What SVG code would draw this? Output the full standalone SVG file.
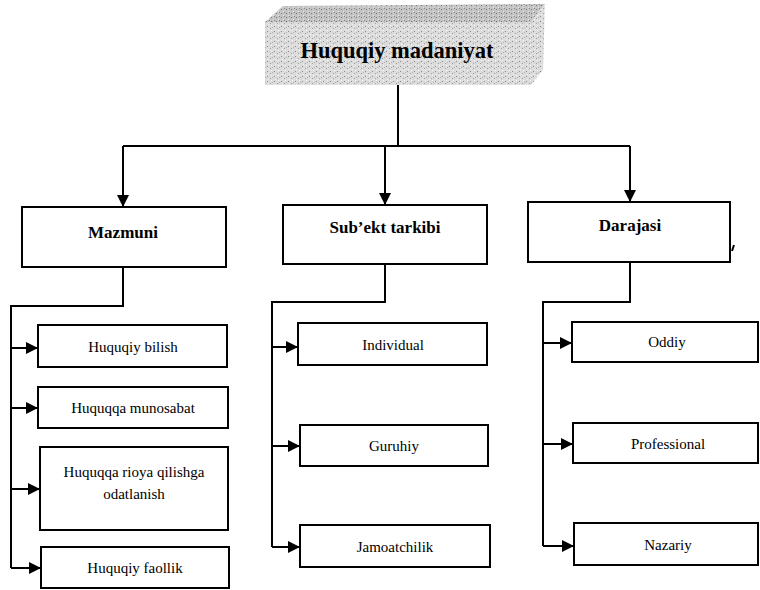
<svg xmlns="http://www.w3.org/2000/svg" width="760" height="590" viewBox="0 0 760 590">
<defs>
<style>
.box{fill:#fff;stroke:#000;stroke-width:2}
.ln{fill:none;stroke:#000;stroke-width:2}
.arr{fill:none;stroke:#000;stroke-width:2;marker-end:url(#ah)}
.h{font-family:"Liberation Serif","Times New Roman",serif;font-weight:bold;font-size:17px;text-anchor:middle;fill:#000}
.t{font-family:"Liberation Serif","Times New Roman",serif;font-size:15px;text-anchor:middle;fill:#000}
</style>
<marker id="ah" markerUnits="userSpaceOnUse" markerWidth="12" markerHeight="12" refX="12" refY="6" orient="auto">
<path d="M0,0 L12,6 L0,12 z" fill="#000"/>
</marker>
<pattern id="noise" patternUnits="userSpaceOnUse" width="7" height="5">
<rect width="7" height="5" fill="#dcdcdc"/>
<rect x="1" y="1" width="1" height="1" fill="#8a8a8a"/>
<rect x="4" y="3" width="1" height="1" fill="#a0a0a0"/>
<rect x="5" y="0" width="1" height="1" fill="#f6f6f6"/>
<rect x="2" y="4" width="1" height="1" fill="#f0f0f0"/>
<rect x="6" y="2" width="1" height="1" fill="#b0b0b0"/>
</pattern>
<pattern id="noise2" patternUnits="userSpaceOnUse" width="5" height="4">
<rect width="5" height="4" fill="#c4c4c4"/>
<rect x="1" y="1" width="1" height="1" fill="#777"/>
<rect x="3" y="3" width="1" height="1" fill="#e6e6e6"/>
<rect x="4" y="0" width="1" height="1" fill="#888"/>
</pattern>
</defs>
<rect width="760" height="590" fill="#fff"/>

<g id="connectors">
<path class="ln" d="M398,85 V146"/>
<path class="ln" d="M123,146 H630"/>
<path class="arr" d="M123,146 V207"/>
<path class="arr" d="M385,146 V205"/>
<path class="arr" d="M630,146 V202"/>
<path class="ln" d="M123,267 V306 H11 V568"/>
<path class="arr" d="M11,348 H38"/>
<path class="arr" d="M11,408 H38"/>
<path class="arr" d="M11,489 H40"/>
<path class="arr" d="M11,568 H41"/>
<path class="ln" d="M385,265 V302 H272 V547"/>
<path class="arr" d="M272,347 H298"/>
<path class="arr" d="M272,446 H300"/>
<path class="arr" d="M272,547 H300"/>
<path class="ln" d="M630,262 V302 H543 V546"/>
<path class="arr" d="M543,343 H572"/>
<path class="arr" d="M543,444 H573"/>
<path class="arr" d="M543,546 H574"/>
<path class="ln" d="M732,251 L734,245" stroke-width="1.5"/>
</g>

<g id="huquqiy-madaniyat">
<polygon points="265,22 283,6 545,4 531,22" fill="url(#noise2)"/>
<polygon points="531,22 545,4 543,70 531,85" fill="url(#noise)"/>
<rect x="265" y="22" width="266" height="63" fill="url(#noise)"/>
<text x="397" y="58" class="h" style="font-size:22.5px">Huquqiy madaniyat</text>
</g>

<g id="mazmuni">
<rect class="box" x="22" y="207" width="204" height="60"/>
<text class="h" x="123" y="238">Mazmuni</text>
</g>
<g id="subekt-tarkibi">
<rect class="box" x="283" y="205" width="204" height="59"/>
<text class="h" x="385" y="233">Sub’ekt  tarkibi</text>
</g>
<g id="darajasi">
<rect class="box" x="528" y="202" width="202" height="60"/>
<text class="h" x="630" y="231">Darajasi</text>
</g>

<g id="huquqiy-bilish">
<rect class="box" x="38" y="325" width="189" height="42"/>
<text class="t" x="133" y="352">Huquqiy bilish</text>
</g>
<g id="huquqqa-munosabat">
<rect class="box" x="38" y="387" width="190" height="41"/>
<text class="t" x="133" y="413">Huquqqa munosabat</text>
</g>
<g id="huquqqa-rioya">
<rect class="box" x="40" y="447" width="188" height="83"/>
<text class="t" x="134" y="477">Huquqqa rioya qilishga</text>
<text class="t" x="134" y="499">odatlanish</text>
</g>
<g id="huquqiy-faollik">
<rect class="box" x="41" y="547" width="188" height="41"/>
<text class="t" x="135" y="573">Huquqiy faollik</text>
</g>

<g id="individual">
<rect class="box" x="298" y="323" width="189" height="42"/>
<text class="t" x="393" y="350">Individual</text>
</g>
<g id="guruhiy">
<rect class="box" x="300" y="425" width="188" height="41"/>
<text class="t" x="394" y="451">Guruhiy</text>
</g>
<g id="jamoatchilik">
<rect class="box" x="300" y="525" width="190" height="42"/>
<text class="t" x="395" y="552">Jamoatchilik</text>
</g>

<g id="oddiy">
<rect class="box" x="572" y="322" width="186" height="40"/>
<text class="t" x="667" y="347">Oddiy</text>
</g>
<g id="professional">
<rect class="box" x="573" y="423" width="185" height="40"/>
<text class="t" x="668" y="449">Professional</text>
</g>
<g id="nazariy">
<rect class="box" x="574" y="523" width="184" height="42"/>
<text class="t" x="668" y="550">Nazariy</text>
</g>
</svg>
